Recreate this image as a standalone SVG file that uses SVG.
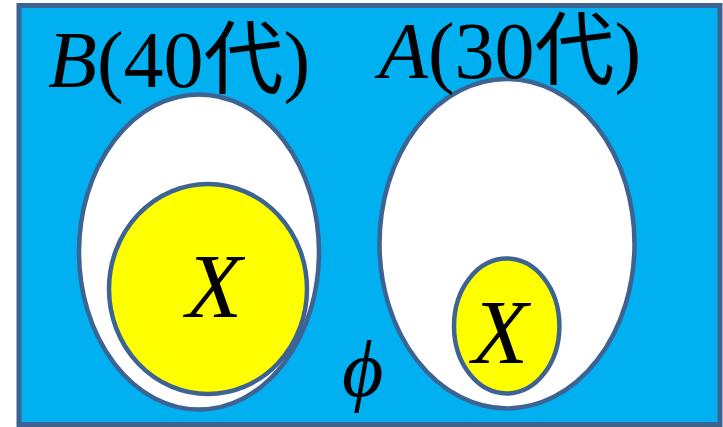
<svg xmlns="http://www.w3.org/2000/svg" width="723" height="427" viewBox="0 0 723 427">
<style>
.out{fill:#ffffff;stroke:#3d6393;stroke-width:4.5}
.inn{fill:#ffff00;stroke:#3d6393;stroke-width:4.5}
.lbl{font-family:"Liberation Serif","Noto Sans CJK SC",serif;font-size:80px;fill:#000}
.x{font-family:"Liberation Serif",serif;font-size:92px;font-style:italic;fill:#000;text-anchor:middle}
</style>
<g id="universe">
<rect x="19" y="5.5" width="701" height="419" fill="#00b0f0" stroke="#3d6393" stroke-width="5"/>
</g>
<g id="B">
<ellipse class="out" cx="199" cy="252" rx="120" ry="157.5"/>
<text class="lbl" x="48" y="87"><tspan font-style="italic">B</tspan>(40代)</text>
</g>
<g id="B-X">
<ellipse class="inn" cx="208" cy="289" rx="99" ry="105"/>
<text class="x" x="214" y="317">X</text>
</g>
<g id="A">
<ellipse class="out" cx="507" cy="243.7" rx="127.5" ry="164.7"/>
<text class="lbl" x="379" y="78" font-size="78"><tspan font-style="italic">A</tspan>(30代)</text>
</g>
<g id="A-X">
<ellipse class="inn" cx="506.7" cy="326" rx="52.7" ry="67.5"/>
<text class="x" x="500" y="363">X</text>
</g>
<g id="empty">
<text x="342" y="396" font-family="Liberation Serif,serif" font-size="80" font-style="italic" fill="#000">ϕ</text>
</g>
<g id="connectors"/>
</svg>
